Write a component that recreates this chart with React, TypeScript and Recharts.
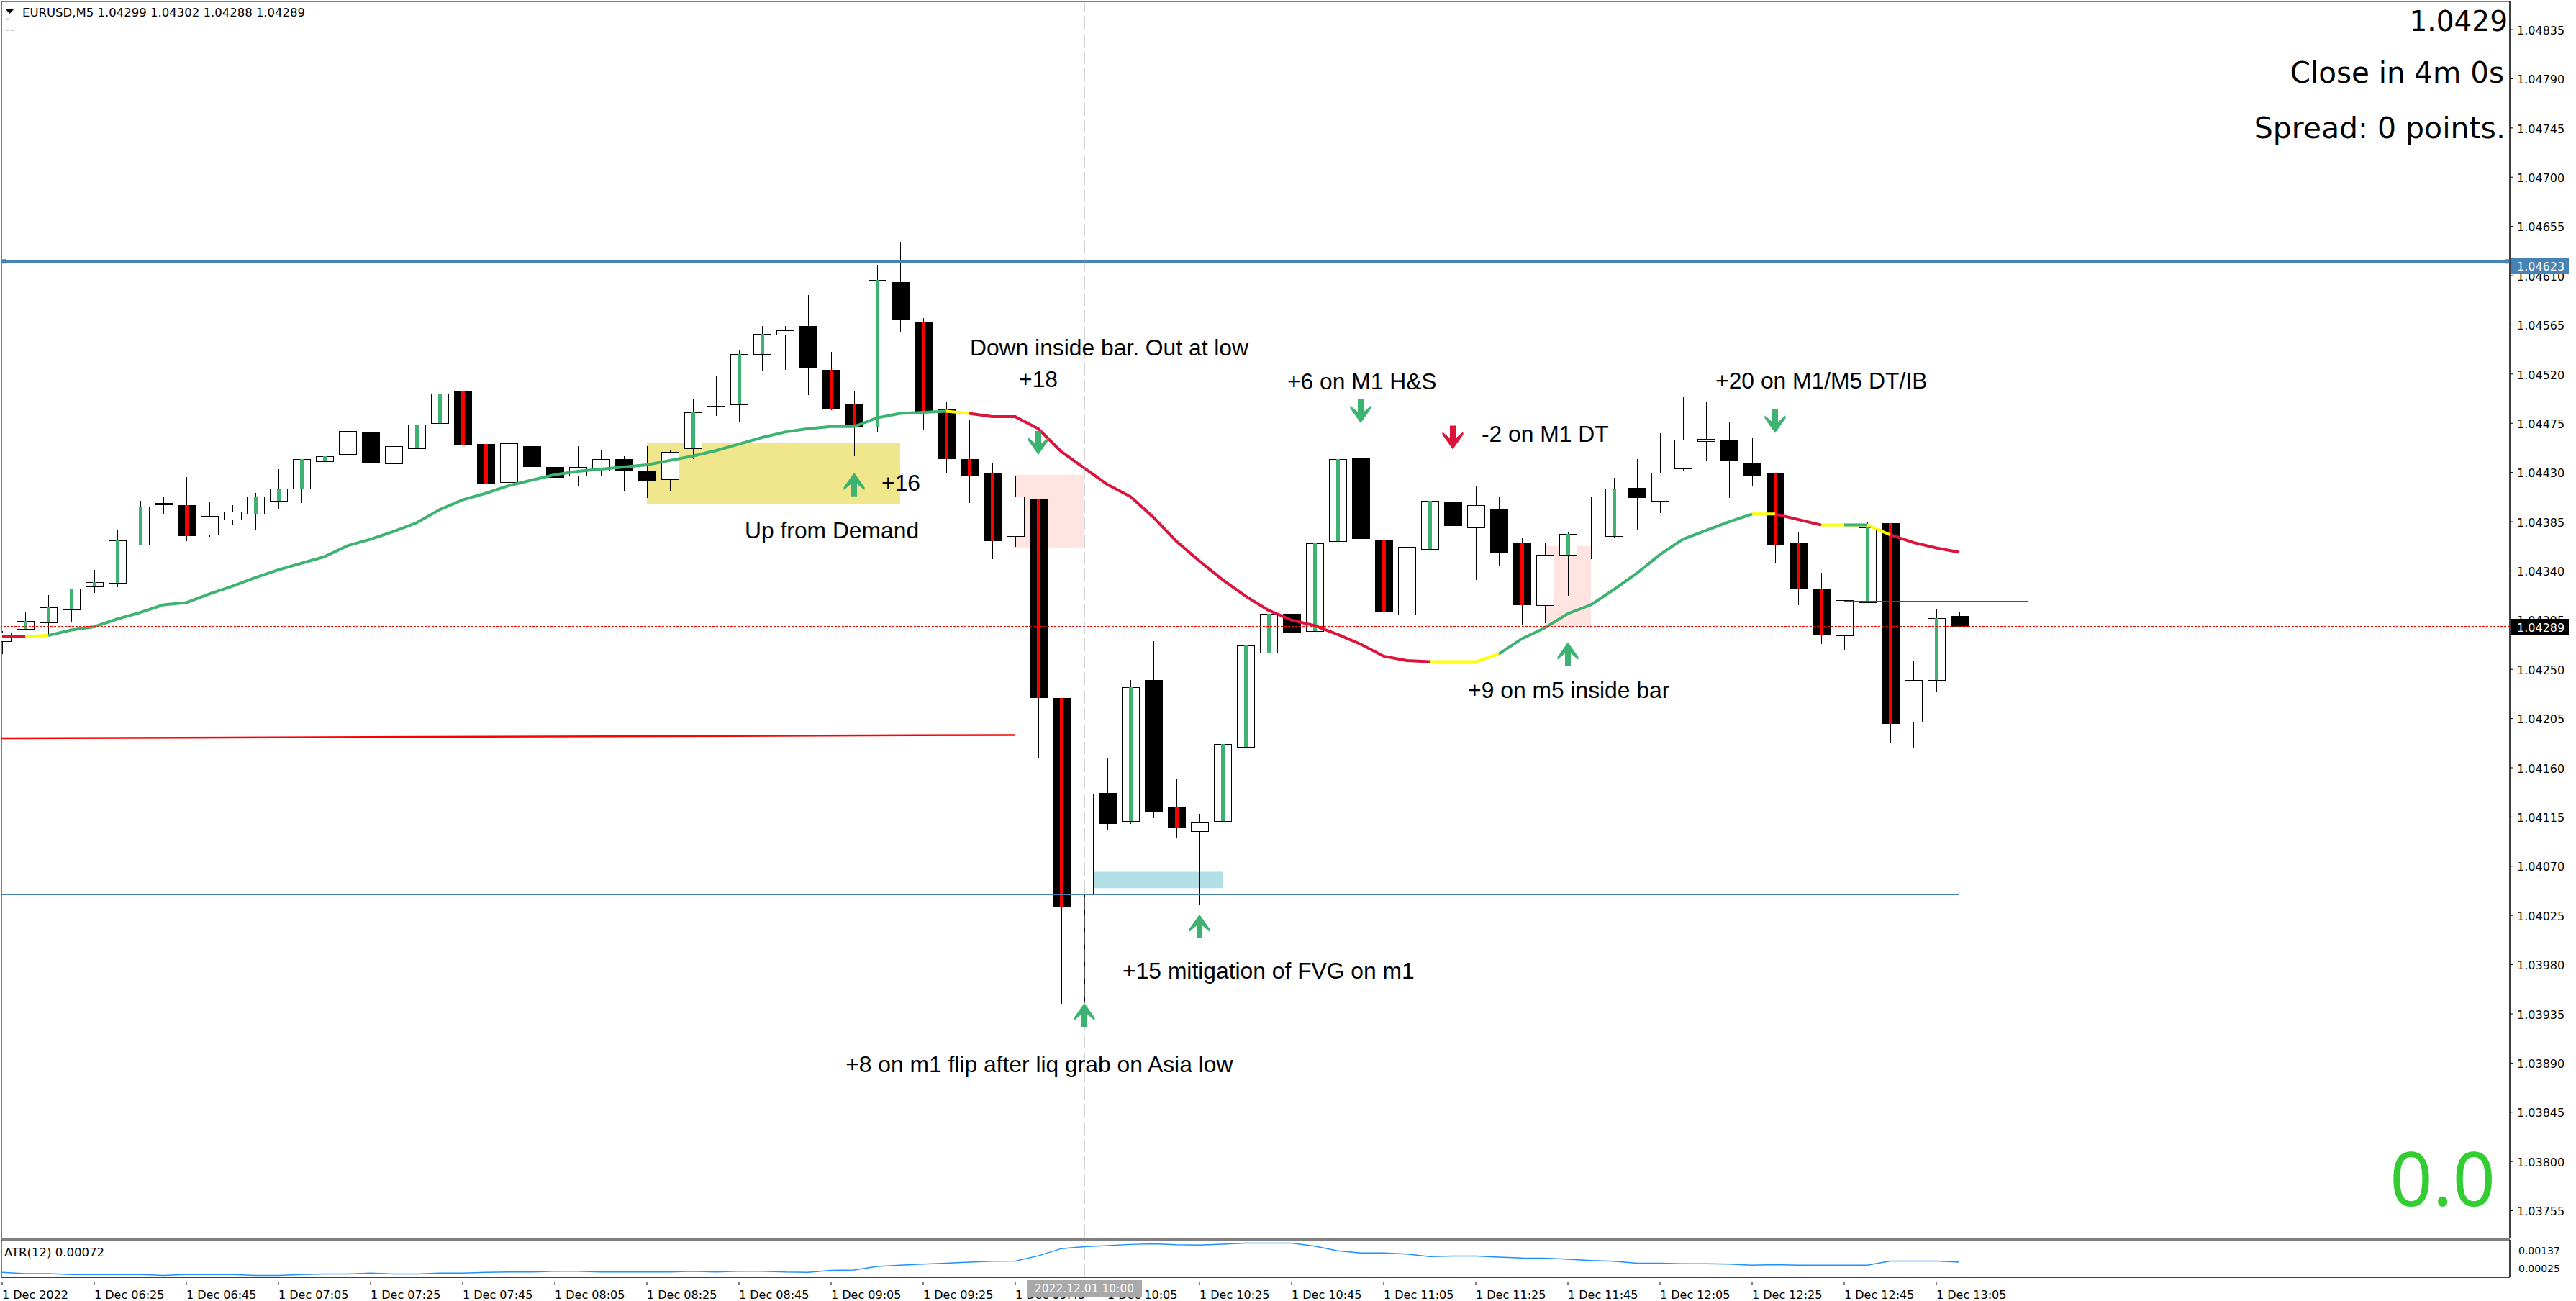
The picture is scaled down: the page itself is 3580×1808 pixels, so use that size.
import {
  Bar,
  ComposedChart,
  Line,
  ReferenceArea,
  ReferenceDot,
  ReferenceLine,
  XAxis,
  YAxis,
} from "recharts";

// EURUSD M5, 1 Dec 2022 06:05 - 13:10, bar by bar
const opens = [
  1.04276, 1.04287, 1.04293, 1.04305, 1.04326, 1.04329, 1.04364, 1.04402, 1.044, 1.04373, 1.04387, 1.04392,
  1.04404, 1.04415, 1.0444, 1.04447, 1.04467, 1.04438, 1.04452, 1.04475, 1.04504, 1.04456, 1.04421, 1.04454,
  1.04435, 1.04427, 1.04432, 1.04442, 1.04432, 1.04424, 1.04452, 1.0449, 1.04492, 1.04538, 1.04556, 1.04564,
  1.04524, 1.04492, 1.04472, 1.04604, 1.04567, 1.04488, 1.04442, 1.04429, 1.04372, 1.04406, 1.04224, 1.04044,
  1.04137, 1.04111, 1.0424, 1.04124, 1.04102, 1.04111, 1.04179, 1.04265, 1.04301, 1.04285, 1.04367, 1.04443,
  1.04368, 1.043, 1.0436, 1.04403, 1.0438, 1.04397, 1.04366, 1.04309, 1.04355, 1.04375, 1.04372, 1.04416,
  1.04404, 1.04434, 1.04459, 1.0446, 1.04439, 1.04429, 1.04366, 1.04323, 1.04281, 1.04311, 1.04384, 1.04202,
  1.0424, 1.04299,
];
const closes = [
  1.04284, 1.04294, 1.04307, 1.04324, 1.0433, 1.04368, 1.04399, 1.044, 1.04372, 1.0439, 1.04394, 1.04408,
  1.04415, 1.04442, 1.04445, 1.04468, 1.04438, 1.04454, 1.04474, 1.04502, 1.04455, 1.0442, 1.04457, 1.04435,
  1.04425, 1.04435, 1.04442, 1.04432, 1.04422, 1.04449, 1.04485, 1.04491, 1.04538, 1.04557, 1.0456, 1.04525,
  1.04488, 1.04472, 1.04606, 1.04569, 1.04485, 1.04442, 1.04427, 1.04367, 1.04408, 1.04224, 1.04033, 1.04136,
  1.04109, 1.04234, 1.04119, 1.04105, 1.0411, 1.04182, 1.04272, 1.04301, 1.04283, 1.04365, 1.04442, 1.04369,
  1.04303, 1.04362, 1.04404, 1.04381, 1.044, 1.04357, 1.04309, 1.04355, 1.04374, 1.04375, 1.04415, 1.04407,
  1.0443, 1.0446, 1.04461, 1.0444, 1.04427, 1.04363, 1.04323, 1.04282, 1.04313, 1.0438, 1.042, 1.0424, 1.04297,
  1.04289,
];
const highs = [
  1.04285, 1.04302, 1.04318, 1.04324, 1.04341, 1.04377, 1.04404, 1.04408, 1.04426, 1.04403, 1.044, 1.04411,
  1.04433, 1.04442, 1.0447, 1.0447, 1.04482, 1.04459, 1.0448, 1.04515, 1.04504, 1.04478, 1.0447, 1.04455,
  1.04472, 1.04454, 1.0445, 1.04445, 1.04454, 1.04451, 1.04497, 1.04518, 1.04542, 1.04564, 1.04564, 1.04592,
  1.0454, 1.04505, 1.0462, 1.0464, 1.04571, 1.04494, 1.04478, 1.04439, 1.04427, 1.04406, 1.04224, 1.04136,
  1.04169, 1.0424, 1.04276, 1.0415, 1.04118, 1.04198, 1.04284, 1.04319, 1.04352, 1.04388, 1.04468, 1.04468,
  1.0438, 1.04362, 1.04406, 1.04449, 1.04418, 1.04408, 1.0437, 1.04366, 1.04375, 1.04408, 1.04425, 1.04442,
  1.04466, 1.04499, 1.04494, 1.04476, 1.04462, 1.04429, 1.04375, 1.04338, 1.04313, 1.04385, 1.04384, 1.04258,
  1.04305, 1.04302,
];
const lows = [
  1.04264, 1.04287, 1.04282, 1.04293, 1.0432, 1.04325, 1.04363, 1.04392, 1.04367, 1.04371, 1.04382, 1.04378,
  1.04397, 1.04402, 1.04423, 1.04429, 1.04437, 1.04428, 1.04446, 1.04469, 1.04455, 1.04417, 1.04407, 1.04423,
  1.04425, 1.04417, 1.04427, 1.04413, 1.04407, 1.04413, 1.04442, 1.04482, 1.04476, 1.04523, 1.04524, 1.04501,
  1.04487, 1.04445, 1.04467, 1.04559, 1.04469, 1.04429, 1.04402, 1.04351, 1.04362, 1.04169, 1.03944, 1.03945,
  1.04103, 1.04109, 1.04114, 1.04096, 1.04034, 1.04106, 1.0417, 1.04235, 1.04267, 1.04272, 1.04361, 1.04351,
  1.04302, 1.04268, 1.04353, 1.04373, 1.04332, 1.04344, 1.0429, 1.04292, 1.04317, 1.04351, 1.0437, 1.04377,
  1.04393, 1.04432, 1.0444, 1.04407, 1.04418, 1.04347, 1.04309, 1.04273, 1.04267, 1.04311, 1.04183, 1.04178,
  1.04229, 1.04288,
];
// body stripe per bar: g green, r red, - none
const stripes = [
  "-", "g", "g", "g", "g", "g", "g", "-", "r", "-", "-", "g",
  "g", "g", "g", "-", "-", "-", "g", "g", "r", "r", "-", "-",
  "-", "-", "-", "-", "-", "-", "g", "-", "g", "g", "-", "-",
  "r", "r", "g", "-", "r", "r", "r", "r", "-", "r", "r", "-",
  "-", "g", "-", "r", "-", "g", "g", "g", "-", "g", "g", "-",
  "r", "-", "g", "-", "-", "-", "r", "-", "g", "-", "g", "-",
  "-", "-", "-", "-", "-", "r", "r", "r", "-", "g", "r", "-",
  "g", "-",
];

const maLine = [
  1.0428, 1.0428, 1.04281, 1.04286, 1.04289, 1.04296, 1.04302, 1.04309, 1.04311, 1.04319, 1.04326, 1.04334,
  1.04341, 1.04347, 1.04353, 1.04363, 1.04369, 1.04376, 1.04384, 1.04396, 1.04405, 1.04411, 1.04418, 1.04423,
  1.04428, 1.04431, 1.04433, 1.04435, 1.04437, 1.04441, 1.04445, 1.0445, 1.04456, 1.04462, 1.04467, 1.0447,
  1.04472, 1.04472, 1.0448, 1.04484, 1.04485, 1.04486, 1.04484, 1.04481, 1.04481, 1.0447, 1.04449, 1.04434,
  1.04419, 1.04408, 1.04389, 1.04367, 1.04349, 1.04332, 1.04317, 1.04304, 1.04295, 1.0429, 1.04282, 1.04273,
  1.04262, 1.04258, 1.04257, 1.04257, 1.04257, 1.04264, 1.04278, 1.04288, 1.04301, 1.04309, 1.04323, 1.04338,
  1.04355, 1.04369, 1.04377, 1.04385, 1.04392, 1.04392, 1.04387, 1.04382, 1.04382, 1.04382, 1.04373, 1.04366,
  1.04361, 1.04357,
];
const maRuns: [string, number, number][] = [
  ["r", 0, 1], ["y", 1, 2], ["g", 2, 41], ["y", 41, 42], ["r", 42, 62], ["y", 62, 65], ["g", 65, 76],
  ["y", 76, 77], ["r", 77, 79], ["y", 79, 80], ["g", 80, 81], ["y", 81, 82], ["r", 82, 85],
];

const atrValues = [
  0.00035, 0.0003, 0.0003, 0.00027, 0.00027, 0.00027, 0.00027, 0.00024, 0.00027, 0.00027, 0.00027, 0.00024,
  0.00024, 0.00027, 0.00029, 0.00029, 0.00032, 0.00029, 0.00029, 0.00032, 0.00032, 0.00035, 0.00036, 0.00036,
  0.00039, 0.00039, 0.00036, 0.00036, 0.00036, 0.00036, 0.00039, 0.00036, 0.00039, 0.00039, 0.00036, 0.00035,
  0.00042, 0.00043, 0.00056, 0.00061, 0.00065, 0.00068, 0.00072, 0.00075, 0.00076, 0.00095, 0.00121, 0.00128,
  0.00132, 0.00136, 0.00138, 0.00135, 0.00134, 0.00137, 0.00141, 0.00141, 0.00141, 0.0013, 0.00113, 0.00105,
  0.00105, 0.00101, 0.00092, 0.00094, 0.00094, 0.0009, 0.00087, 0.00086, 0.00082, 0.00078, 0.00075, 0.00068,
  0.00068, 0.00066, 0.00066, 0.00065, 0.00061, 0.00063, 0.00061, 0.00061, 0.00061, 0.00061, 0.00076, 0.00076,
  0.00076, 0.00072,
];

const priceTicks = [
  1.04835, 1.0479, 1.04745, 1.047, 1.04655, 1.0461, 1.04565, 1.0452, 1.04475, 1.0443, 1.04385, 1.0434, 1.04295,
  1.0425, 1.04205, 1.0416, 1.04115, 1.0407, 1.04025, 1.0398, 1.03935, 1.0389, 1.03845, 1.038, 1.03755,
];
const timeTickBars = [0, 4, 8, 12, 16, 20, 24, 28, 32, 36, 40, 44, 48, 52, 56, 60, 64, 68, 72, 76, 80, 84];
const timeTickLabels = [
  "1 Dec 2022", "1 Dec 06:25", "1 Dec 06:45", "1 Dec 07:05", "1 Dec 07:25", "1 Dec 07:45", "1 Dec 08:05",
  "1 Dec 08:25", "1 Dec 08:45", "1 Dec 09:05", "1 Dec 09:25", "1 Dec 09:45", "1 Dec 10:05", "1 Dec 10:25",
  "1 Dec 10:45", "1 Dec 11:05", "1 Dec 11:25", "1 Dec 11:45", "1 Dec 12:05", "1 Dec 12:25", "1 Dec 12:45",
  "1 Dec 13:05",
];

// chart annotations, anchored by bar index and price
const notes: [string, number, number][] = [
  ["Down inside bar. Out at low", 42.03, 1.04537],
  ["+18", 44.16, 1.04508],
  ["+6 on M1 H&S", 55.81, 1.04506],
  ["+16", 38.19, 1.04413],
  ["Up from Demand", 32.25, 1.04370],
  ["-2 on M1 DT", 64.25, 1.04458],
  ["+20 on M1/M5 DT/IB", 74.41, 1.04507],
  ["+9 on m5 inside bar", 63.66, 1.04224],
  ["+15 mitigation of FVG on m1", 48.66, 1.03967],
  ["+8 on m1 flip after liq grab on Asia low", 36.63, 1.03882],
];
const arrows: [string, number, number, string][] = [
  ["up", 37, 1.04419, "#3CB371"],
  ["down", 45, 1.04457, "#3CB371"],
  ["down", 59, 1.04486, "#3CB371"],
  ["down", 63, 1.04462, "#DC143C"],
  ["up", 68, 1.04264, "#3CB371"],
  ["down", 77, 1.04477, "#3CB371"],
  ["up", 52, 1.04015, "#3CB371"],
  ["up", 47, 1.03934, "#3CB371"],
];

const W = 3580;
const xDomain = [-1 / 32, 3485 / 32];
const yDomain = [1.037297, 1.048607];
const atrDomain = [0.000172, 0.001526];
const TICK_FONT = "'DejaVu Sans'";
const NOTE_FONT = "'Liberation Sans'";

function maFor(kind: string, i: number) {
  return maRuns.some(([k, a, b]) => k === kind && i >= a && i <= b) ? maLine[i] : null;
}

const bars = opens.map((open, i) => ({
  idx: i,
  open,
  close: closes[i],
  high: highs[i],
  low: lows[i],
  range: [lows[i], highs[i]],
  stripe: stripes[i],
  maRed: maFor("r", i),
  maYellow: maFor("y", i),
  maGreen: maFor("g", i),
}));
const atrRows = atrValues.map((atr, i) => ({ idx: i, atr }));

const Candle = (props: any) => {
  const { x, y, width, height, payload } = props;
  const { open, close, high, low, stripe } = payload;
  const c = Math.round(x + width / 2);
  const yAt = (v: number) => Math.round(y + ((high - v) / (high - low)) * height);
  const top = yAt(Math.max(open, close));
  const bottom = yAt(Math.min(open, close));
  const up = close >= open;
  return (
    <g shapeRendering="crispEdges">
      <rect x={c} y={yAt(high)} width={1} height={yAt(low) - yAt(high)} fill="#000" />
      {up ? (
        <rect x={c - 11.5} y={top + 0.5} width={24} height={bottom - top} fill="#fff" stroke="#000" strokeWidth={1} />
      ) : (
        <rect x={c - 12} y={top} width={25} height={Math.max(bottom - top, 1)} fill="#000" />
      )}
      {stripe !== "-" && (
        <rect x={c - 2} y={top} width={5} height={bottom - top} fill={stripe === "g" ? "#3CB371" : "#FF0000"} />
      )}
    </g>
  );
};

const Arrow = (props: any) => {
  const { cx, cy, dir, color } = props;
  const s = dir === "up" ? 1 : -1;
  const pts = [
    [0, -16.5], [14.5, 4], [14.5, 8], [4, -1], [4, 16.5], [-4, 16.5], [-4, -1], [-14.5, 8], [-14.5, 4],
  ]
    .map(([a, b]) => `${cx + a},${cy + s * b}`)
    .join(" ");
  return <polygon points={pts} fill={color} />;
};

const LineEnd = (props: any) => (
  <rect x={props.cx - 3} y={props.cy - 3} width={6} height={6} fill="#4682B4" />
);

const TimeTick = (props: any) => {
  const { x, y, payload } = props;
  const label = timeTickLabels[timeTickBars.indexOf(payload.value)];
  return (
    <g>
      <line x1={x} x2={x} y1={y - 1} y2={y + 3} stroke="#000" />
      <text x={x} y={y + 22} fontFamily={TICK_FONT} fontSize={16} fill="#000">
        {label}
      </text>
    </g>
  );
};

const AtrTick = (props: any) => {
  const { x, y, payload } = props;
  const shift = payload.value > 0.001 ? 14 : -4;
  return (
    <text x={x + 4} y={y + shift} fontFamily={TICK_FONT} fontSize={14} fill="#000">
      {payload.value.toFixed(5)}
    </text>
  );
};

const AxisTag = ({ y, text, fill }: { y: number; text: string; fill: string }) => (
  <g>
    <rect x={3490} y={y} width={80} height={23} fill={fill} />
    <text x={3498} y={y + 18} fontFamily={TICK_FONT} fontSize={16} fill="#fff">
      {text}
    </text>
  </g>
);

const App = () => {
  return (
    <div style={{ position: "absolute", left: 0, top: 0, width: W, height: 1808, background: "#fff", overflow: "hidden" }}>
      <div style={{ position: "absolute", left: 0, top: 0 }}>
        <ComposedChart width={W} height={1722} data={bars} margin={{ top: 2, right: 0, bottom: 1, left: 2 }}>
          <XAxis type="number" dataKey="idx" domain={xDomain} allowDataOverflow hide />
          <YAxis
            orientation="right"
            width={92}
            domain={yDomain}
            allowDataOverflow
            ticks={priceTicks}
            interval={0}
            tickSize={4}
            tickMargin={6}
            stroke="#000"
            tick={{ fontFamily: TICK_FONT, fontSize: 16, fill: "#000", dy: 1 }}
            tickFormatter={(v: number) => v.toFixed(5)}
          />
          {/* zones */}
          <ReferenceArea x1={28} x2={39} y1={1.04401} y2={1.04457} fill="#F0E68C" fillOpacity={1} stroke="none" />
          <ReferenceArea x1={44} x2={47} y1={1.04361} y2={1.04428} fill="#FFE4E1" fillOpacity={1} stroke="none" />
          <ReferenceArea x1={67} x2={69} y1={1.04289} y2={1.04363} fill="#FFE4E1" fillOpacity={1} stroke="none" />
          <ReferenceArea x1={47} x2={53} y1={1.0405} y2={1.04065} fill="#B0E0E6" fillOpacity={1} stroke="none" />

          <Bar dataKey="range" barSize={25} shape={Candle} isAnimationActive={false} />

          <Line dataKey="maYellow" stroke="#FFFF00" strokeWidth={4} dot={false} isAnimationActive={false} />
          <Line dataKey="maRed" stroke="#DC143C" strokeWidth={4} dot={false} isAnimationActive={false} />
          <Line dataKey="maGreen" stroke="#3CB371" strokeWidth={4} dot={false} isAnimationActive={false} />

          <ReferenceLine y={1.04623} stroke="#4682B4" strokeWidth={4} shapeRendering="crispEdges" />
          <ReferenceDot x={0.1} y={1.04623} r={1} shape={LineEnd} />
          <ReferenceDot x={108.8} y={1.04623} r={1} shape={LineEnd} />
          <ReferenceLine
            segment={[{ x: xDomain[0], y: 1.04044 }, { x: 85, y: 1.04044 }]}
            stroke="#4682B4"
            strokeWidth={2}
            shapeRendering="crispEdges"
          />
          <ReferenceLine
            segment={[{ x: xDomain[0], y: 1.04187 }, { x: 44, y: 1.0419 }]}
            stroke="#FF0000"
            strokeWidth={2.5}
          />
          <ReferenceLine
            segment={[{ x: 80, y: 1.04312 }, { x: 88, y: 1.04312 }]}
            stroke="#FF0000"
            strokeWidth={2}
            shapeRendering="crispEdges"
          />
          <ReferenceLine y={1.04289} stroke="#FF0000" strokeDasharray="3 2" shapeRendering="crispEdges" />
          <ReferenceLine x={47} stroke="#A9A9A9" strokeDasharray="18 6" />
          <ReferenceArea
            x1={xDomain[0]}
            x2={xDomain[1]}
            y1={yDomain[0]}
            y2={yDomain[1]}
            fill="none"
            stroke="#000"
            strokeWidth={1}
          />

          {arrows.map(([dir, bar, price, color], i) => (
            <ReferenceDot
              key={i}
              x={bar}
              y={price}
              r={1}
              shape={(p: any) => <Arrow cx={p.cx} cy={p.cy} dir={dir} color={color} />}
            />
          ))}
          {notes.map(([text, bar, price], i) => (
            <ReferenceDot
              key={i}
              x={bar}
              y={price}
              r={1}
              shape={(p: any) => (
                <text x={p.cx} y={p.cy} fontFamily={NOTE_FONT} fontSize={31.8} fill="#000">
                  {text}
                </text>
              )}
            />
          ))}
        </ComposedChart>
      </div>

      {/* ATR window and time axis */}
      <div style={{ position: "absolute", left: 0, top: 1722 }}>
        <ComposedChart width={W} height={86} data={atrRows} margin={{ top: 1, right: 0, bottom: 0, left: 2 }}>
          <XAxis
            type="number"
            dataKey="idx"
            domain={xDomain}
            allowDataOverflow
            height={33}
            ticks={timeTickBars}
            interval={0}
            tickLine={false}
            stroke="#000"
            tick={TimeTick}
          />
          <YAxis
            orientation="right"
            width={92}
            domain={atrDomain}
            allowDataOverflow
            ticks={[0.00137, 0.00025]}
            interval={0}
            tickLine={false}
            stroke="#000"
            tick={AtrTick}
          />
          <Line dataKey="atr" stroke="#1E90FF" strokeWidth={1.5} dot={false} isAnimationActive={false} />
          <ReferenceLine x={47} stroke="#A9A9A9" strokeDasharray="18 6" />
          <ReferenceArea
            x1={xDomain[0]}
            x2={xDomain[1]}
            y1={atrDomain[0]}
            y2={atrDomain[1]}
            fill="none"
            stroke="#000"
            strokeWidth={1}
          />
        </ComposedChart>
      </div>

      {/* terminal overlay text */}
      <svg width={W} height={1808} style={{ position: "absolute", left: 0, top: 0, pointerEvents: "none" }}>
        <polygon points="8,13 19,13 13.5,19" fill="#000" />
        <text x={31} y={23} fontFamily={TICK_FONT} fontSize={16.5}>
          EURUSD,M5  1.04299 1.04302 1.04288 1.04289
        </text>
        <text x={8} y={31} fontFamily={TICK_FONT} fontSize={16.5}>
          -
        </text>
        <text x={8} y={46} fontFamily={TICK_FONT} fontSize={16.5}>
          --
        </text>
        <text x={3485} y={43} textAnchor="end" fontFamily={TICK_FONT} fontSize={39}>
          1.0429
        </text>
        <text x={3480} y={115} textAnchor="end" fontFamily={TICK_FONT} fontSize={40.4}>
          Close in 4m 0s
        </text>
        <text x={3482} y={192} textAnchor="end" fontFamily={TICK_FONT} fontSize={41}>
          Spread: 0 points.
        </text>
        <text x={3468} y={1676} textAnchor="end" fontFamily="'Noto Sans'" fontSize={104} fill="#32CD32">
          0.0
        </text>
        <text x={6} y={1746} fontFamily={TICK_FONT} fontSize={16.5}>
          ATR(12) 0.00072
        </text>
        <AxisTag y={358} text="1.04623" fill="#4682B4" />
        <AxisTag y={860} text="1.04289" fill="#000" />
        <rect x={1427} y={1779} width={160} height={23} fill="#A9A9A9" />
        <text x={1507} y={1796} textAnchor="middle" fontFamily={TICK_FONT} fontSize={15.5} fill="#fff">
          2022.12.01 10:00
        </text>
      </svg>
    </div>
  );
};

export default App;
